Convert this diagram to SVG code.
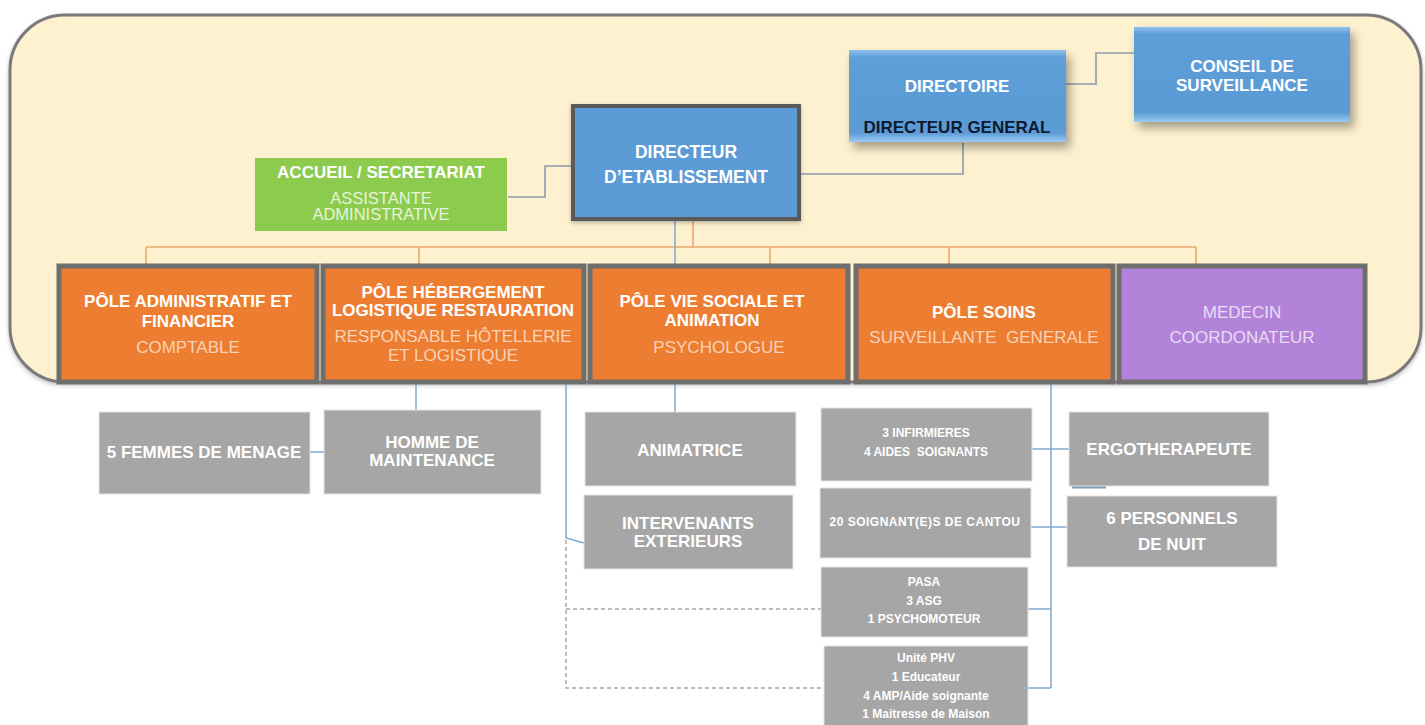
<svg xmlns="http://www.w3.org/2000/svg" width="1425" height="725" viewBox="0 0 1425 725">
<style>
  text { font-family: "Liberation Sans", Arial, sans-serif; text-anchor: middle; }
  .pre { white-space: pre; }
  .t { font-weight: bold; font-size: 17px; fill: #ffffff; }
  .sub { font-size: 17px; fill: #F9D2B6; }
  .gsub { font-size: 16.5px; fill: #E6F3DA; }
  .msub { font-size: 17px; fill: #E9DCF5; }
  .g { font-weight: bold; font-size: 17px; fill: #ffffff; }
  .gs { font-weight: bold; font-size: 12px; fill: #ffffff; }
  .dk { font-weight: bold; font-size: 17px; fill: #0E1A30; }
  .orange { fill: #ED7D31; stroke: #6E6E6E; stroke-width: 5; }
  .purple { fill: #B383DA; stroke: #6E6E6E; stroke-width: 5; }
  .gray { fill: #A6A6A6; stroke: #E4E4E4; stroke-width: 1; }
  .conn { fill: none; stroke: #8C9AAE; stroke-width: 1.6; }
  .bus { fill: none; stroke: #EDA66E; stroke-width: 1.6; }
  .blue { fill: none; stroke: #7FA9CC; stroke-width: 1.5; }
  .dash { fill: none; stroke: #A8A8A8; stroke-width: 1.5; stroke-dasharray: 4 3; }
</style>
<defs>
  <linearGradient id="bevel" x1="0" y1="0" x2="0" y2="1">
    <stop offset="0" stop-color="#8CC0EE"/>
    <stop offset="0.08" stop-color="#5E9ED8"/>
    <stop offset="0.9" stop-color="#5B9BD5"/>
    <stop offset="1" stop-color="#9CCBF2"/>
  </linearGradient>
  <filter id="shadow" x="-10%" y="-10%" width="130%" height="140%">
    <feDropShadow dx="4" dy="6" stdDeviation="5" flood-color="#000000" flood-opacity="0.35"/>
  </filter>
  <filter id="pshadow" x="-5%" y="-5%" width="110%" height="115%">
    <feDropShadow dx="0" dy="2" stdDeviation="2" flood-color="#000000" flood-opacity="0.25"/>
  </filter>
</defs>

<rect width="1425" height="725" fill="#ffffff"/>

<g id="panel">
  <rect x="10" y="15" width="1411" height="367" rx="55" ry="55" fill="#FEF1CF" stroke="#7A7A7A" stroke-width="3" filter="url(#pshadow)"/>
</g>

<g id="connectors">
  <path class="conn" d="M1066,84 H1096 V53 H1134"/>
  <path class="conn" d="M800,174 H963 V143"/>
  <path class="conn" d="M508,197 H545 V166 H572"/>
  <path class="bus" d="M146,247 H1196"/>
  <path class="bus" d="M693,221 V247"/>
  <path class="bus" d="M146,247 V266 M419,247 V266 M770,247 V266 M949,247 V266 M1196,247 V266"/>
  <path class="blue" d="M675,221 V266"/>
  <path class="blue" d="M675,383 V412"/>
  <path class="blue" d="M416,383 V410"/>
  <path class="blue" d="M310,452 H324"/>
  <path class="blue" d="M566,383 V538 L584,543"/>
  <path class="dash" d="M566,540 V688 H824"/>
  <path class="dash" d="M566,609 H821"/>
  <path class="blue" d="M1051,383 V688"/>
  <path class="blue" d="M1032,449 H1069"/>
  <path class="blue" d="M1031,527 H1067"/>
  <path class="blue" d="M1028,609 H1051"/>
  <path class="blue" d="M1028,688 H1051"/>
  <path d="M1072,487 H1106" stroke="#7F9DBA" stroke-width="3" fill="none"/>
</g>

<g id="conseil">
  <rect x="1134" y="27" width="216" height="95" fill="url(#bevel)" filter="url(#shadow)"/>
  <text class="t" x="1242" y="72">CONSEIL DE</text>
  <text class="t" x="1242" y="91">SURVEILLANCE</text>
</g>

<g id="directoire">
  <rect x="849" y="50" width="217" height="92" fill="url(#bevel)" filter="url(#shadow)"/>
  <text class="t" x="957" y="92">DIRECTOIRE</text>
  <text class="dk" x="957" y="133">DIRECTEUR GENERAL</text>
</g>

<g id="directeur">
  <rect x="573" y="106" width="226" height="113" fill="#5B9BD5" stroke="#5A5A5A" stroke-width="4" filter="url(#pshadow)"/>
  <text class="t" x="686" y="158" style="font-size:17.5px">DIRECTEUR</text>
  <text class="t" x="686" y="183" style="font-size:17.5px">D’ETABLISSEMENT</text>
</g>

<g id="accueil">
  <rect x="255" y="158" width="252" height="73" fill="#8DCB4F"/>
  <text class="t" x="381" y="178">ACCUEIL / SECRETARIAT</text>
  <text class="gsub" x="381" y="204">ASSISTANTE</text>
  <text class="gsub" x="381" y="220">ADMINISTRATIVE</text>
</g>

<g id="pole-admin">
  <rect class="orange" x="59" y="266" width="258" height="116"/>
  <text class="t" x="188" y="307">PÔLE ADMINISTRATIF ET</text>
  <text class="t" x="188" y="327">FINANCIER</text>
  <text class="sub" x="188" y="353">COMPTABLE</text>
</g>

<g id="pole-hebergement">
  <rect class="orange" x="323" y="266" width="261" height="116"/>
  <text class="t" x="453" y="298">PÔLE HÉBERGEMENT</text>
  <text class="t" x="453" y="316">LOGISTIQUE RESTAURATION</text>
  <text class="sub" x="453" y="342">RESPONSABLE HÔTELLERIE</text>
  <text class="sub" x="453" y="361">ET LOGISTIQUE</text>
</g>

<g id="pole-vie-sociale">
  <rect class="orange" x="590" y="266" width="258" height="116"/>
  <text class="t" x="712" y="307">PÔLE VIE SOCIALE ET</text>
  <text class="t" x="712" y="326">ANIMATION</text>
  <text class="sub" x="719" y="353">PSYCHOLOGUE</text>
</g>

<g id="pole-soins">
  <rect class="orange" x="856" y="266" width="257" height="116"/>
  <text class="t" x="984" y="318">PÔLE SOINS</text>
  <text class="sub pre" x="984" y="343">SURVEILLANTE  GENERALE</text>
</g>

<g id="medecin">
  <rect class="purple" x="1119" y="266" width="246" height="116"/>
  <text class="msub" x="1242" y="318">MEDECIN</text>
  <text class="msub" x="1242" y="343">COORDONATEUR</text>
</g>

<g id="femmes-menage">
  <rect class="gray" x="99" y="412" width="211" height="82"/>
  <text class="g" x="204" y="458">5 FEMMES DE MENAGE</text>
</g>

<g id="homme-maintenance">
  <rect class="gray" x="324" y="410" width="217" height="84"/>
  <text class="g" x="432" y="448">HOMME DE</text>
  <text class="g" x="432" y="466">MAINTENANCE</text>
</g>

<g id="animatrice">
  <rect class="gray" x="585" y="412" width="211" height="74"/>
  <text class="g" x="690" y="456">ANIMATRICE</text>
</g>

<g id="intervenants">
  <rect class="gray" x="584" y="495" width="209" height="74"/>
  <text class="g" x="688" y="529">INTERVENANTS</text>
  <text class="g" x="688" y="547">EXTERIEURS</text>
</g>

<g id="infirmieres">
  <rect class="gray" x="821" y="408" width="211" height="73"/>
  <text class="gs" x="926" y="437">3 INFIRMIERES</text>
  <text class="gs pre" x="926" y="456">4 AIDES  SOIGNANTS</text>
</g>

<g id="soignants-cantou">
  <rect class="gray" x="820" y="488" width="211" height="70"/>
  <text class="gs" x="925" y="526" style="letter-spacing:0.5px">20 SOIGNANT(E)S DE CANTOU</text>
</g>

<g id="pasa">
  <rect class="gray" x="821" y="567" width="207" height="70"/>
  <text class="gs" x="924" y="586">PASA</text>
  <text class="gs" x="924" y="605">3 ASG</text>
  <text class="gs" x="924" y="623">1 PSYCHOMOTEUR</text>
</g>

<g id="unite-phv">
  <rect class="gray" x="824" y="646" width="204" height="80"/>
  <text class="gs" x="926" y="662">Unité PHV</text>
  <text class="gs" x="926" y="681">1 Educateur</text>
  <text class="gs" x="926" y="700">4 AMP/Aide soignante</text>
  <text class="gs" x="926" y="718">1 Maitresse de Maison</text>
</g>

<g id="ergotherapeute">
  <rect class="gray" x="1069" y="412" width="200" height="74"/>
  <text class="g" x="1169" y="455">ERGOTHERAPEUTE</text>
</g>

<g id="personnels-nuit">
  <rect class="gray" x="1067" y="496" width="210" height="71"/>
  <text class="g" x="1172" y="524">6 PERSONNELS</text>
  <text class="g" x="1172" y="550">DE NUIT</text>
</g>
</svg>
